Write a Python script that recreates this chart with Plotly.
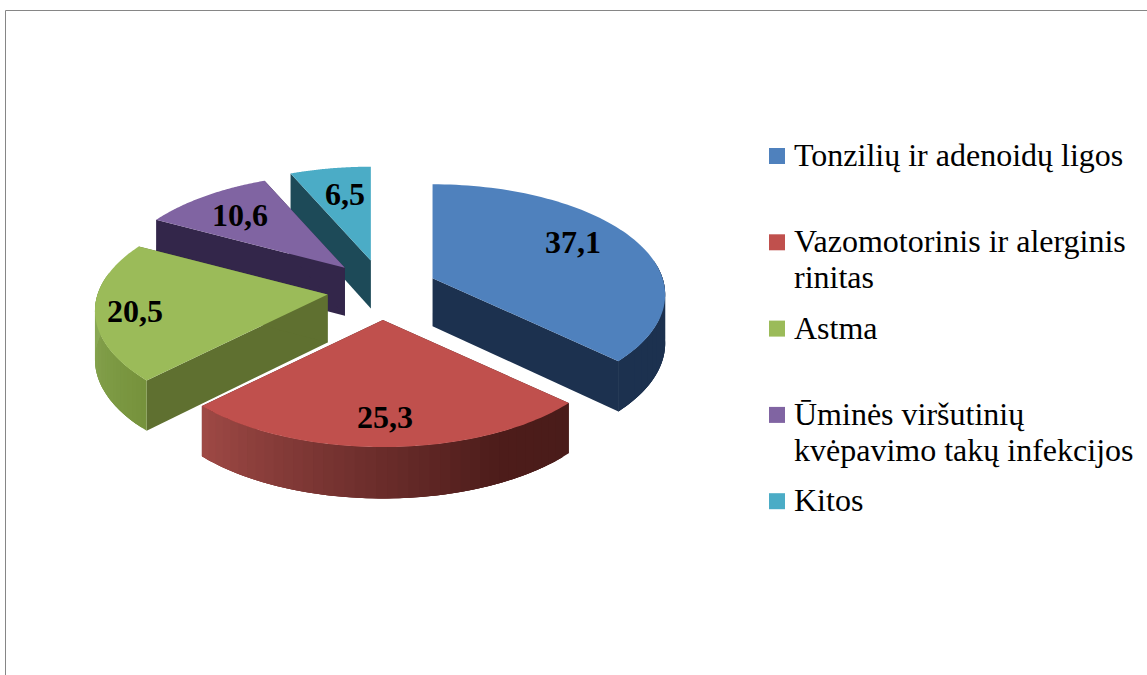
import numpy as np
import plotly.graph_objects as go

# ---- data ----
categories = ["Tonzilių ir adenoidų ligos", "Vazomotorinis ir alerginis rinitas", "Astma",
              "Ūminės viršutinių kvėpavimo takų infekcijos", "Kitos"]
values = [37.1, 25.3, 20.5, 10.6, 6.5]
value_labels = ["37,1", "25,3", "20,5", "10,6", "6,5"]
legend_lines = [["Tonzilių ir adenoidų ligos"],
                ["Vazomotorinis ir alerginis", "rinitas"],
                ["Astma"],
                ["Ūminės viršutinių", "kvėpavimo takų infekcijos"],
                ["Kitos"]]

# ---- styles ----
top_colors = ["#4f81bd", "#c0504d", "#9bbb59", "#8064a2", "#4bacc6"]
cut_colors = ["#1c314f", "#4a1c1a", "#5f7030", "#33264a", "#1d4a58"]
# outer wall shading: (angle in degrees, rgb)
wall_stops = [
    [(0, (28, 49, 79)), (360, (28, 49, 79))],
    [(133, (74, 28, 26)), (155, (78, 29, 27)), (185, (112, 48, 46)), (225, (160, 74, 70))],
    [(224, (118, 146, 60)), (270, (138, 169, 85)), (300, (138, 169, 85))],
    [(0, (51, 38, 74)), (360, (51, 38, 74))],
    [(0, (29, 74, 88)), (360, (29, 74, 88))],
]
label_offsets = [(140, -36), (2, 97), (-193, 17), (-105, -53), (-26, -67)]
draw_order = [4, 3, 0, 2, 1]

CX, CY = 382, 290      # pie centre on the canvas
RX, RY = 230, 108      # projected radii
PERSP = 0.15           # perspective strength
DEPTH = 48             # wall height
EX, EY = 55, 30        # explosion distance

FONT = "Liberation Serif"


def project(theta, r, ax, ay, drop=0.0):
    """Project a point of a pie slice (clockwise angle from 12 o'clock)."""
    x, y = r * np.sin(theta), -r * np.cos(theta)
    s = 1 / (1 - PERSP * y)
    return ax + RX * x * s, ay + RY * y * s + drop * (1 + (s - 1) * 0.4)


def shade(stops, deg):
    a = [p[0] for p in stops]
    c = np.array([p[1] for p in stops], float)
    rgb = [np.interp(deg, a, c[:, i]) for i in range(3)]
    return "rgb(%d,%d,%d)" % tuple(rgb)


def poly(xs, ys, color, name):
    return go.Scatter(x=list(xs), y=list(ys), mode="none", fill="toself", fillcolor=color,
                      hoverinfo="skip", showlegend=False, name=name)


fig = go.Figure()

# frame
fig.add_trace(go.Scatter(x=[5.5, 5.5, 1147], y=[675, 10.5, 10.5], mode="lines",
                         line=dict(color="#868686", width=1), hoverinfo="skip", showlegend=False))

shares = np.array(values) / sum(values) * 2 * np.pi
edges = np.concatenate([[0], np.cumsum(shares)])
apexes = []
for i in range(len(values)):
    mid = (edges[i] + edges[i + 1]) / 2
    apexes.append((CX + EX * np.sin(mid), CY - EY * np.cos(mid)))

for i in draw_order:
    a0, a1 = edges[i], edges[i + 1]
    ax, ay = apexes[i]
    name = categories[i]
    # cut walls
    for edge in (a0, a1):
        ex, ey = project(edge, 1, ax, ay)
        fx, fy = project(edge, 1, ax, ay, DEPTH)
        fig.add_trace(poly([ax, ex, fx, ax, ax], [ay, ey, fy, ay + DEPTH, ay], cut_colors[i], name))
    # outer wall: overlapping strips painted in order, so no seams show
    n = 40
    ts = np.linspace(a0, a1, n + 1)
    for k in range(n):
        t0, t1 = ts[k], ts[min(k + 3, n)]
        if np.cos((ts[k] + ts[k + 1]) / 2) > 0.15:
            continue
        u = np.linspace(t0, t1, 6)
        xa, ya = project(u, 1, ax, ay)
        xb, yb = project(u[::-1], 1, ax, ay, DEPTH)
        col = shade(wall_stops[i], np.degrees((ts[k] + ts[k + 1]) / 2))
        fig.add_trace(poly(np.r_[xa, xb, xa[0]], np.r_[ya, yb, ya[0]], col, name))
    # top face
    ts = np.linspace(a0, a1, 80)
    px, py = project(ts, 1, ax, ay)
    fig.add_trace(poly(np.r_[ax, px, ax], np.r_[ay, py, ay], top_colors[i], name))

# value labels
for i, lab in enumerate(value_labels):
    fig.add_annotation(x=apexes[i][0] + label_offsets[i][0], y=apexes[i][1] + label_offsets[i][1],
                       text="<b>%s</b>" % lab, showarrow=False,
                       font=dict(family=FONT, size=32, color="black"))

# legend
LEG_X, LEG_Y, LEG_STEP, LINE_STEP = 777, 156, 86.3, 36
for i, cat in enumerate(categories):
    y = LEG_Y + i * LEG_STEP
    fig.add_trace(go.Scatter(x=[LEG_X], y=[y], mode="markers", name=cat, showlegend=False,
                             marker=dict(symbol="square", size=16, color=top_colors[i]), hoverinfo="name"))
    for j, txt in enumerate(legend_lines[i]):
        fig.add_annotation(x=791.5, y=y - 1 + j * LINE_STEP, text=txt, showarrow=False, xanchor="left",
                           font=dict(family=FONT, size=32, color="black"))

fig.update_layout(width=1147, height=675, margin=dict(l=0, r=0, t=0, b=0),
                  paper_bgcolor="white", plot_bgcolor="white", showlegend=False,
                  xaxis=dict(range=[0, 1147], visible=False, fixedrange=True),
                  yaxis=dict(range=[675, 0], visible=False, fixedrange=True))

fig.write_html("out.html", config={"displayModeBar": False},
               post_script="document.body.style.margin='0';document.body.style.overflow='hidden';")
